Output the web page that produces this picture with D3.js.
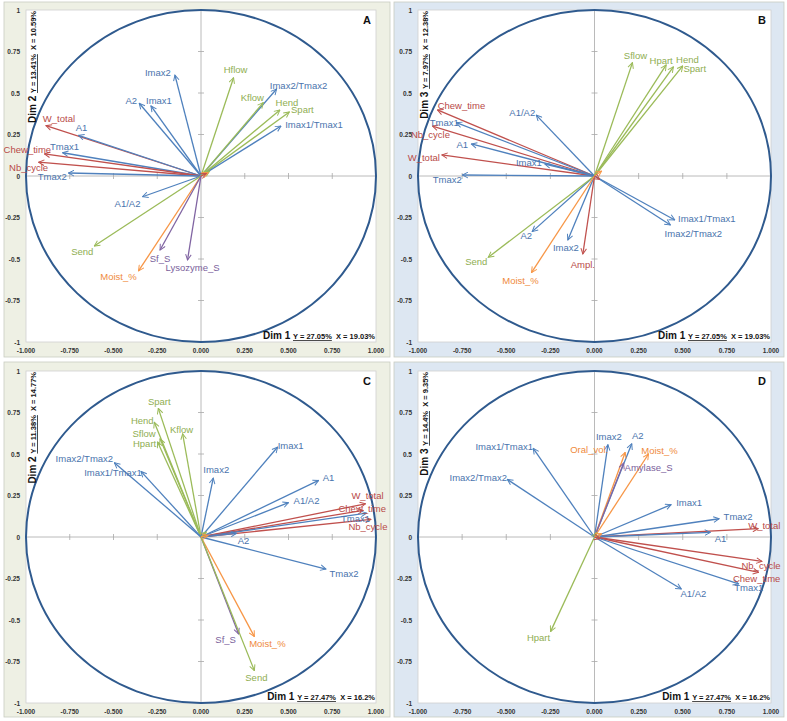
<!DOCTYPE html>
<html><head><meta charset="utf-8">
<script src="https://cdn.jsdelivr.net/npm/d3@7"></script>
<style>body{margin:0;background:#fff;} svg{display:block;}</style>
</head><body>
<svg id="c" width="787" height="721"></svg>
<script>
// ---------- DATA ----------
const xTicks = [-1, -0.75, -0.5, -0.25, 0, 0.25, 0.5, 0.75, 1];
const xTickLabels = ["-1.000","-0.750","-0.500","-0.250","0.000","0.250","0.500","0.750","1.000"];
const yTicks = [-1, -0.75, -0.5, -0.25, 0, 0.25, 0.5, 0.75, 1];
const yTickLabels = ["-1","-0.75","-0.5","-0.25","0","0.25","0.5","0.75","1"];

// [name, x, y, group]
const vectorsA = [
  ["Imax2",-0.149,0.608,"blue"],["A2",-0.353,0.438,"blue"],["Imax1",-0.286,0.422,"blue"],
  ["W_total",-0.886,0.303,"red"],["A1",-0.70,0.245,"blue"],["Tmax1",-0.791,0.140,"blue"],
  ["Chew_time",-0.895,0.133,"red"],["Nb_cycle",-0.928,0.083,"red"],["Tmax2",-0.758,0.018,"blue"],
  ["Hflow",0.186,0.592,"green"],["Imax2/Tmax2",0.432,0.524,"blue"],["Kflow",0.356,0.442,"green"],
  ["Hend",0.451,0.398,"green"],["Spart",0.505,0.386,"green"],["Imax1/Tmax1",0.457,0.301,"blue"],
  ["A1/A2",-0.334,-0.125,"blue"],["Send",-0.61,-0.422,"green"],["Moist_%",-0.357,-0.572,"orange"],
  ["Sf_S",-0.234,-0.446,"purple"],["Lysozyme_S",-0.077,-0.506,"purple"],
  ["",0.05,0.03,"green"],["",0.04,0.02,"orange"],["",0.03,0.015,"red"]
];
const vectorsB = [
  ["Chew_time",-0.89,0.398,"red"],["Tmax1",-0.783,0.321,"blue"],["Nb_cycle",-0.918,0.301,"red"],
  ["A1/A2",-0.33,0.367,"blue"],["A1",-0.698,0.193,"blue"],["W_total",-0.865,0.127,"red"],
  ["Imax1",-0.281,0.072,"blue"],["Tmax2",-0.749,0.006,"blue"],
  ["Sflow",0.215,0.683,"green"],["Hpart",0.406,0.669,"green"],["Hend",0.447,0.658,"green"],
  ["Spart",0.5,0.663,"green"],["Imax1/Tmax1",0.455,-0.265,"blue"],["Imax2/Tmax2",0.43,-0.295,"blue"],
  ["A2",-0.353,-0.335,"blue"],["Send",-0.602,-0.49,"green"],["Imax2",-0.151,-0.386,"blue"],
  ["Ampl.",-0.066,-0.47,"red"],["Moist_%",-0.357,-0.582,"orange"],
  ["",0.04,0.03,"orange"],["",0.03,-0.02,"red"]
];
const vectorsC = [
  ["Spart",-0.244,0.775,"green"],["Hend",-0.267,0.691,"green"],["Kflow",-0.105,0.622,"green"],
  ["Sflow",-0.234,0.592,"green"],["Hpart",-0.248,0.572,"green"],
  ["Imax2/Tmax2",-0.495,0.448,"blue"],["Imax1/Tmax1",-0.343,0.395,"blue"],
  ["Imax1",0.438,0.542,"blue"],["Imax2",0.07,0.355,"blue"],["A1",0.672,0.341,"blue"],
  ["A1/A2",0.5,0.207,"blue"],["W_total",0.94,0.2,"red"],["Chew_time",0.927,0.16,"red"],
  ["Tmax1",0.946,0.144,"blue"],["Nb_cycle",0.971,0.106,"red"],["A2",0.203,0.022,"blue"],
  ["Tmax2",0.714,-0.193,"blue"],["Sf_S",0.215,-0.584,"purple"],["Moist_%",0.305,-0.6,"orange"],
  ["Send",0.305,-0.805,"green"],
  ["",0.03,0.03,"green"],["",0.04,0.01,"orange"]
];
const vectorsD = [
  ["Imax1/Tmax1",-0.347,0.534,"blue"],["Imax2/Tmax2",-0.494,0.347,"blue"],
  ["Imax2",0.076,0.556,"blue"],["A2",0.211,0.562,"blue"],["Oral_vol.",0.174,0.51,"orange"],
  ["Moist_%",0.306,0.5,"orange"],["Amylase_S",0.165,0.445,"purple"],["Imax1",0.434,0.195,"blue"],
  ["Tmax2",0.706,0.11,"blue"],["W_total",0.928,0.05,"red"],["A1",0.657,0.028,"blue"],
  ["Nb_cycle",0.949,-0.147,"red"],["Chew_time",0.93,-0.213,"red"],["Tmax1",0.817,-0.283,"blue"],
  ["A1/A2",0.492,-0.313,"blue"],["Hpart",-0.249,-0.57,"green"],
  ["",0.012,0.027,"green"],["",0.04,0.02,"orange"],["",0.03,-0.01,"red"]
];

const titlesA = {letter:"A", dimX:"Dim 1", xY:"Y = 27.05%", xX:"X = 19.03%", dimY:"Dim 2", yY:"Y = 13.41%", yX:"X = 10.59%"};
const titlesB = {letter:"B", dimX:"Dim 1", xY:"Y = 27.05%", xX:"X = 19.03%", dimY:"Dim 3", yY:"Y = 7.97%", yX:"X = 12.38%"};
const titlesC = {letter:"C", dimX:"Dim 1", xY:"Y = 27.47%", xX:"X = 16.2%", dimY:"Dim 2", yY:"Y = 11.38%", yX:"X = 14.77%"};
const titlesD = {letter:"D", dimX:"Dim 1", xY:"Y = 27.47%", xX:"X = 16.2%", dimY:"Dim 3", yY:"Y = 14.4%", yX:"X = 9.35%"};

// ---------- LAYOUT / STYLE ----------
const colors = {blue:"#4f81bd", red:"#c0504d", green:"#9bbb59", orange:"#f79646", purple:"#8064a2"};
const labelColors = {blue:"#4a74ad", red:"#b84a47", green:"#8fae52", orange:"#ef8a3c", purple:"#7a5f9c"};

// label offsets (px) from arrow tip to label centre
const labelOffsets = {
  A: {"Imax2":[-17,-3],"A2":[-8,-3],"Imax1":[8,-5],"W_total":[13,-7],"A1":[3,-8],"Tmax1":[2,-6],
      "Chew_time":[-17,-4],"Nb_cycle":[-10,5],"Tmax2":[-16,3],"Hflow":[2,-8],"Imax2/Tmax2":[22,-4],
      "Kflow":[-11,-5],"Hend":[7,-7],"Spart":[13,-2],"Imax1/Tmax1":[33,-2],"A1/A2":[-15,7],
      "Send":[-12,5],"Moist_%":[-20,6],"Sf_S":[0,8],"Lysozyme_S":[5,8]},
  B: {"Chew_time":[24,-4],"Tmax1":[-12,0],"Nb_cycle":[-2,8],"A1/A2":[-14,-3],"A1":[-9,1],
      "W_total":[-18,3],"Imax1":[-16,-2],"Tmax2":[-15,4],"Sflow":[3,-7],"Hpart":[-5,-4],
      "Hend":[14,-7],"Spart":[12,3],"Imax1/Tmax1":[32,-1],"Imax2/Tmax2":[23,9],"A2":[-6,4],
      "Send":[-12,4],"Imax2":[-2,7],"Ampl.":[0,10],"Moist_%":[-11,8]},
  C: {"Spart":[1,-7],"Hend":[-12,-2],"Kflow":[-1,-4],"Sflow":[-16,-5],"Hpart":[-13,1],
      "Imax2/Tmax2":[-30,-4],"Imax1/Tmax1":[-28,1],"Imax1":[13,-2],"Imax2":[3,-9],"A1":[10,-3],
      "A1/A2":[18,-2],"W_total":[2,-8],"Chew_time":[-1,-2],"Tmax1":[-11,5],"Nb_cycle":[-3,7],
      "A2":[7,7],"Tmax2":[18,4],"Sf_S":[-13,6],"Moist_%":[13,7],"Send":[2,7]},
  D: {"Imax1/Tmax1":[-29,-2],"Imax2/Tmax2":[-29,-2],"Imax2":[1,-8],"A2":[6,-8],"Oral_vol.":[-36,-3],
      "Moist_%":[11,-4],"Amylase_S":[25,4],"Imax1":[18,-2],"Tmax2":[19,-2],"W_total":[6,-3],
      "A1":[10,6],"Nb_cycle":[-1,4],"Chew_time":[-2,6],"Tmax1":[10,4],"A1/A2":[12,5],"Hpart":[-12,6]}
};

const panels = [
  {key:"A", data:vectorsA, t:titlesA, box:[4,2,386,355], bg:"#eef0e4", plot:[26,10,376,342]},
  {key:"B", data:vectorsB, t:titlesB, box:[394,2,390,355], bg:"#dde7f2", plot:[418,10,771,342]},
  {key:"C", data:vectorsC, t:titlesC, box:[4,362,386,355], bg:"#eef0e4", plot:[26,371,376,703]},
  {key:"D", data:vectorsD, t:titlesD, box:[394,362,390,355], bg:"#dde7f2", plot:[418,371,771,703]}
];

const svg = d3.select("#c");
const defs = svg.append("defs");
Object.entries(colors).forEach(([k,c]) => {
  defs.append("marker").attr("id","arr-"+k)
    .attr("viewBox","0 0 10 10").attr("refX",9).attr("refY",5)
    .attr("markerWidth",7).attr("markerHeight",7).attr("markerUnits","userSpaceOnUse")
    .attr("orient","auto")
    .append("path").attr("d","M1,1 L9,5 L1,9").attr("fill","none")
    .attr("stroke",c).attr("stroke-width",1.4);
});

const FONT = "'Liberation Sans', Arial, sans-serif";

panels.forEach(p => {
  const g = svg.append("g");
  const [bx,by,bw,bh] = p.box;
  g.append("rect").attr("x",bx).attr("y",by).attr("width",bw).attr("height",bh)
    .attr("fill",p.bg).attr("stroke","#c8ccc0").attr("stroke-width",0.8);
  const [x0,y0,x1,y1] = p.plot;
  const x = d3.scaleLinear().domain([-1,1]).range([x0,x1]);
  const y = d3.scaleLinear().domain([-1,1]).range([y1,y0]);
  g.append("rect").attr("x",x0).attr("y",y0).attr("width",x1-x0).attr("height",y1-y0)
    .attr("fill","#fff").attr("stroke","#d0d0d0").attr("stroke-width",0.8);

  // axes through origin
  const axG = g.append("g").attr("stroke","#a8a8a8");
  axG.append("line").attr("x1",x0).attr("x2",x1).attr("y1",y(0)).attr("y2",y(0)).attr("stroke-width",0.8);
  axG.append("line").attr("y1",y0).attr("y2",y1).attr("x1",x(0)).attr("x2",x(0)).attr("stroke-width",0.8);
  axG.selectAll(".xt").data(xTicks.filter(v=>v!==0 && Math.abs(v)!==1)).join("line")
    .attr("x1",d=>x(d)).attr("x2",d=>x(d)).attr("y1",y(0)-3).attr("y2",y(0)+3).attr("stroke-width",0.8);
  axG.selectAll(".yt").data(yTicks.filter(v=>v!==0 && Math.abs(v)!==1)).join("line")
    .attr("y1",d=>y(d)).attr("y2",d=>y(d)).attr("x1",x(0)-3).attr("x2",x(0)+3).attr("stroke-width",0.8);

  // tick labels (low position)
  g.append("g").selectAll("text").data(xTicks).join("text")
    .attr("x",d=>x(d)).attr("y",y1+11).attr("text-anchor","middle")
    .attr("font-family",FONT).attr("font-size",6.5).attr("font-weight","bold").attr("fill","#333")
    .text((d,i)=>xTickLabels[i]);
  g.append("g").selectAll("text").data(yTicks).join("text")
    .attr("x",x0-6).attr("y",d=>y(d)+2.5).attr("text-anchor","end")
    .attr("font-family",FONT).attr("font-size",6.5).attr("font-weight","bold").attr("fill","#333")
    .text((d,i)=>yTickLabels[i]);

  // correlation circle
  g.append("ellipse").attr("cx",x(0)).attr("cy",y(0))
    .attr("rx",x(1)-x(0)).attr("ry",y(-1)-y(0))
    .attr("fill","none").attr("stroke","#2f5a8e").attr("stroke-width",2);

  // vectors
  g.append("g").selectAll("line").data(p.data).join("line")
    .attr("x1",x(0)).attr("y1",y(0))
    .attr("x2",d=>x(d[1])).attr("y2",d=>y(d[2]))
    .attr("stroke",d=>colors[d[3]]).attr("stroke-width",1.3)
    .attr("marker-end",d=>"url(#arr-"+d[3]+")");

  // labels
  const offs = labelOffsets[p.key];
  g.append("g").selectAll("text").data(p.data.filter(d=>d[0])).join("text")
    .attr("x",d=>x(d[1])+(offs[d[0]]||[0,0])[0])
    .attr("y",d=>y(d[2])+(offs[d[0]]||[0,0])[1])
    .attr("text-anchor","middle").attr("dominant-baseline","central")
    .attr("font-family",FONT).attr("font-size",9.5)
    .attr("fill",d=>labelColors[d[3]]).text(d=>d[0]);

  // panel letter
  g.append("text").attr("x",x1-9).attr("y",y0+14).attr("text-anchor","middle")
    .attr("font-family",FONT).attr("font-size",11).attr("font-weight","bold").attr("fill","#111")
    .text(p.t.letter);

  // x title
  const xt = g.append("text").attr("x",x1-1).attr("y",y1-3).attr("text-anchor","end")
    .attr("font-family",FONT).attr("fill","#111");
  xt.append("tspan").attr("font-size",10).attr("font-weight","bold").text(p.t.dimX + " ");
  xt.append("tspan").attr("font-size",7.5).attr("font-weight","bold").attr("text-decoration","underline").text(p.t.xY);
  xt.append("tspan").attr("font-size",7.5).attr("font-weight","bold").text("\u00a0\u00a0" + p.t.xX);

  // y title (rotated)
  const yt = g.append("text").attr("transform",`translate(${x0+10},${y0+1}) rotate(-90)`)
    .attr("text-anchor","end").attr("font-family",FONT).attr("fill","#111");
  yt.append("tspan").attr("font-size",10).attr("font-weight","bold").text(p.t.dimY + " ");
  yt.append("tspan").attr("font-size",7.5).attr("font-weight","bold").attr("text-decoration","underline").text(p.t.yY);
  yt.append("tspan").attr("font-size",7.5).attr("font-weight","bold").text("\u00a0\u00a0" + p.t.yX);
});
</script>
</body></html>
